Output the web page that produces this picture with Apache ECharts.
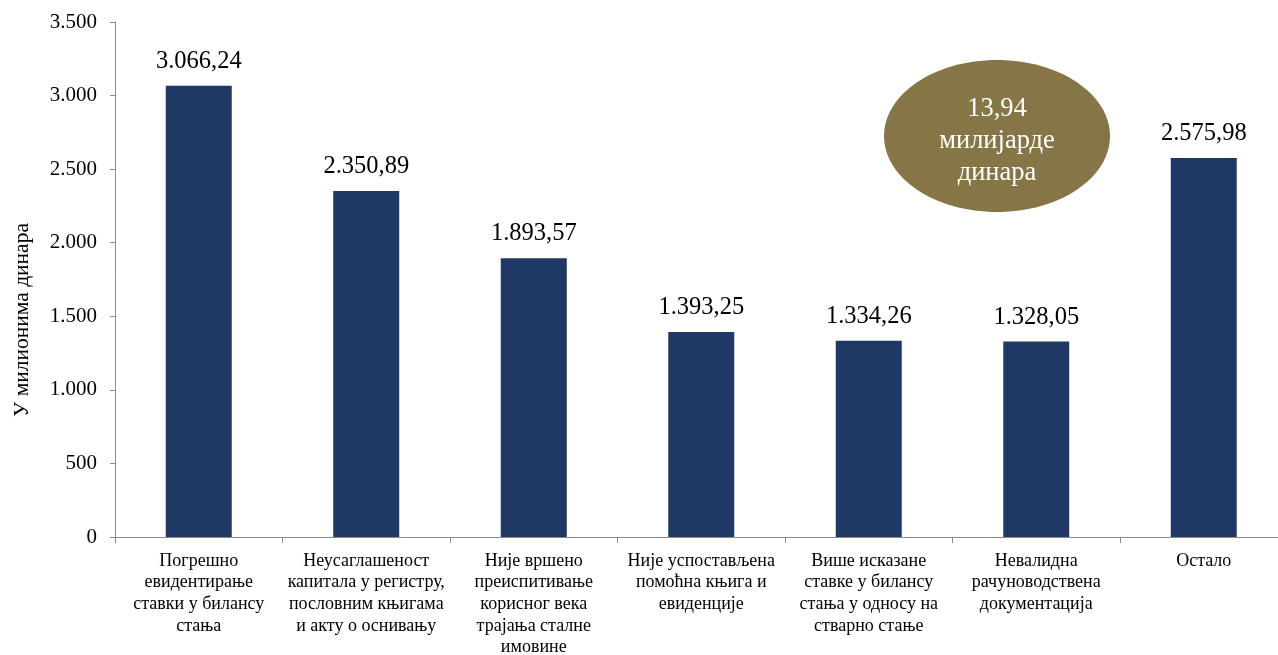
<!DOCTYPE html>
<html><head><meta charset="utf-8">
<script src="https://cdn.jsdelivr.net/npm/echarts@6/dist/echarts.min.js"></script>
<style>html,body{margin:0;padding:0;background:#fff}#c{width:1278px;height:655px}</style>
</head><body><div id="c"></div>
<script>
const categories = [
  "Погрешно\nевидентирање\nставки у билансу\nстања",
  "Неусаглашеност\nкапитала у регистру,\nпословним књигама\nи акту о оснивању",
  "Није вршено\nпреиспитивање\nкорисног века\nтрајања сталне\nимовине",
  "Није успостављена\nпомоћна књига и\nевиденције",
  "Више исказане\nставке у билансу\nстања у односу на\nстварно стање",
  "Невалидна\nрачуноводствена\nдокументација",
  "Остало"
];
const values = [3066.24, 2350.89, 1893.57, 1393.25, 1334.26, 1328.05, 2575.98];
const axisTitle = "У милионима динара";
const totalText = "13,94\nмилијарде\nдинара";

function fmt(v, dec) {
  const s = v.toFixed(dec);
  const parts = s.split('.');
  const int = parts[0].replace(/\B(?=(\d{3})+(?!\d))/g, '.');
  return parts.length > 1 ? int + ',' + parts[1] : int;
}
const FONT = '"Liberation Serif", "Times New Roman", serif';
const chart = echarts.init(document.getElementById('c'));
chart.setOption({
  animation: false,
  textStyle: { fontFamily: FONT },
  grid: { left: 115, right: -9.5, top: 22, bottom: 118, containLabel: false, outerBoundsMode: 'none' },
  xAxis: {
    type: 'category', data: categories,
    axisLine: { lineStyle: { color: '#8c8c8c', width: 1 } },
    axisTick: { show: true, length: 6, alignWithLabel: false, lineStyle: { color: '#8c8c8c' } },
    axisLabel: { interval: 0, color: '#000', fontFamily: FONT, fontSize: 18, lineHeight: 21.7, margin: 13 }
  },
  yAxis: {
    type: 'value', min: 0, max: 3500, interval: 500,
    axisLine: { show: true, lineStyle: { color: '#8c8c8c', width: 1 } },
    axisTick: { show: true, length: 5, lineStyle: { color: '#8c8c8c' } },
    splitLine: { show: false },
    axisLabel: { color: '#000', fontFamily: FONT, fontSize: 21, margin: 18, formatter: v => fmt(v, 0) }
  },
  series: [{
    type: 'bar', data: values, barWidth: '39.4%',
    itemStyle: { color: '#1F3864' },
    label: { show: true, position: 'top', distance: 12, color: '#000', fontFamily: FONT, fontSize: 24.5,
      formatter: p => fmt(p.value, 2) }
  }],
  graphic: [
    { type: 'text', x: 22, y: 320, rotation: Math.PI / 2,
      style: { text: axisTitle, fill: '#000', font: '21.5px ' + FONT, textAlign: 'center', textVerticalAlign: 'middle' } },
    { type: 'ellipse', shape: { cx: 997, cy: 136, rx: 113, ry: 76 }, style: { fill: '#857547' } },
    { type: 'text', x: 997, y: 141,
      style: { text: totalText, fill: '#fff', font: '26.5px ' + FONT, lineHeight: 32, textAlign: 'center', textVerticalAlign: 'middle' } }
  ]
});
</script></body></html>
